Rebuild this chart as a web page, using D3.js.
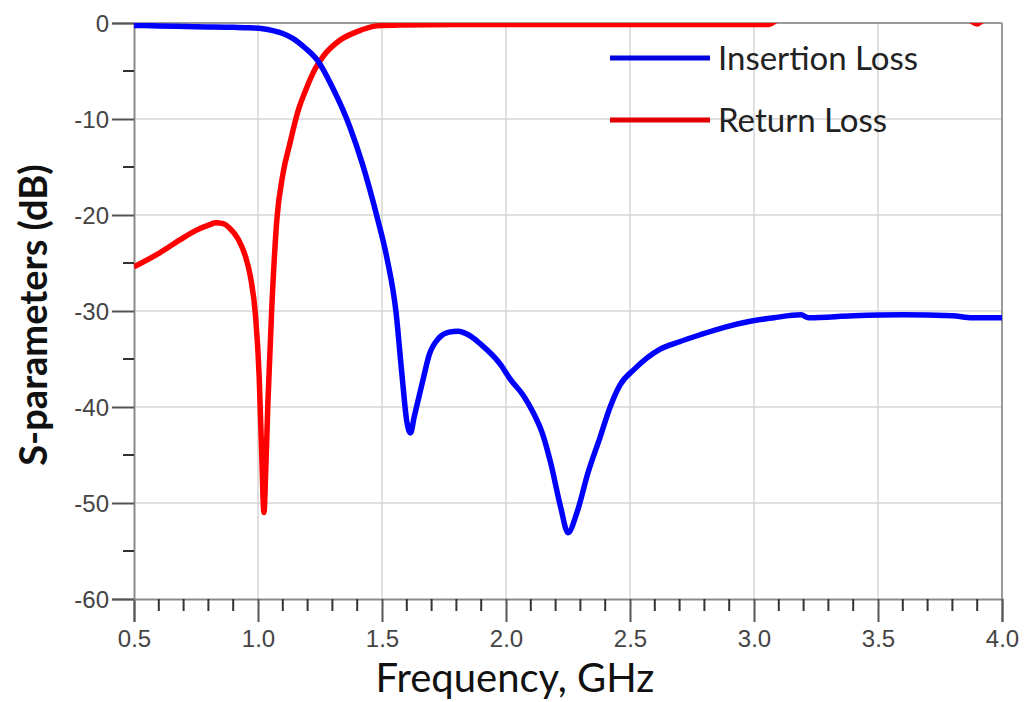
<!DOCTYPE html>
<html>
<head>
<meta charset="utf-8">
<script src="https://cdn.jsdelivr.net/npm/d3@7"></script>
<style>
  body { margin: 0; background: #fff; }
  svg { display: block; }
</style>
</head>
<body>
<div id="chart"></div>
<script>
// Insertion loss (S21)
const ilFreq = [0.5, 0.6, 0.75, 0.9, 0.968, 1.02, 1.06, 1.10, 1.14, 1.19, 1.24, 1.30, 1.37, 1.42, 1.48, 1.52, 1.556, 1.58, 1.60, 1.615, 1.63, 1.665, 1.69, 1.73, 1.77, 1.806, 1.85, 1.90, 1.976, 2.02, 2.07, 2.11, 2.15, 2.18, 2.22, 2.25, 2.286, 2.33, 2.38, 2.42, 2.46, 2.52, 2.62, 2.70, 2.78, 2.88, 2.98, 3.08, 3.19, 3.22, 3.4, 3.6, 3.8, 3.88, 4.0];
const ilDb   = [-0.25, -0.3, -0.4, -0.45, -0.5, -0.6, -0.8, -1.1, -1.6, -2.6, -3.9, -6.7, -10.8, -14.6, -20.2, -24.5, -30.0, -36.5, -41.5, -42.7, -41.0, -37.2, -34.6, -32.8, -32.2, -32.1, -32.5, -33.5, -35.5, -37.2, -38.8, -40.6, -43.0, -45.8, -50.4, -53.1, -51.0, -46.9, -43.1, -40.0, -37.7, -36.0, -34.0, -33.2, -32.5, -31.7, -31.1, -30.7, -30.4, -30.7, -30.5, -30.4, -30.5, -30.7, -30.7];

// Return loss (S11)
const rlFreq = [0.5, 0.6, 0.685, 0.75, 0.806, 0.83, 0.86, 0.887, 0.92, 0.948, 0.97, 0.99, 1.005, 1.015, 1.024, 1.032, 1.04, 1.055, 1.076, 1.10, 1.129, 1.16, 1.197, 1.23, 1.262, 1.33, 1.40, 1.48, 1.57, 1.8, 2.2, 2.6, 3.0, 3.06, 3.1, 3.5, 3.86, 3.9, 3.93, 4.0];
const rlDb   = [-25.4, -24.0, -22.6, -21.6, -21.0, -20.8, -20.9, -21.4, -22.5, -24.2, -26.5, -30.5, -37.0, -45.0, -51.0, -46.0, -39.5, -30.0, -20.5, -15.8, -12.5, -9.3, -6.7, -4.8, -3.5, -1.8, -0.9, -0.3, -0.2, -0.15, -0.15, -0.15, -0.15, -0.15, 0.35, 0.35, 0.35, -0.1, 0.35, 0.35];

const xTicks = [0.5, 1.0, 1.5, 2.0, 2.5, 3.0, 3.5, 4.0];
const yTicks = [0, -10, -20, -30, -40, -50, -60];
const seriesNames = ['Insertion Loss', 'Return Loss'];
const seriesColors = ['#0000ff', '#ff0000'];

const width = 1024, height = 702;
const margin = { left: 134, right: 22, top: 23, bottom: 103 };
const innerW = width - margin.left - margin.right;
const innerH = height - margin.top - margin.bottom;

const svg = d3.select('#chart').append('svg')
  .attr('width', width)
  .attr('height', height);

const x = d3.scaleLinear().domain([0.5, 4.0]).range([0, innerW]);
const y = d3.scaleLinear().domain([-60, 0]).range([innerH, 0]);

const g = svg.append('g')
  .attr('transform', `translate(${margin.left},${margin.top})`);

svg.append('defs').append('clipPath')
  .attr('id', 'plot-clip')
  .append('rect')
  .attr('width', innerW)
  .attr('height', innerH);

// grid
g.append('g')
  .selectAll('line')
  .data(xTicks.slice(1, -1))
  .join('line')
  .attr('x1', d => x(d)).attr('x2', d => x(d))
  .attr('y1', 0).attr('y2', innerH)
  .attr('stroke', '#d6d6d6')
  .attr('stroke-width', 1.5);

g.append('g')
  .selectAll('line')
  .data(yTicks.slice(1, -1))
  .join('line')
  .attr('x1', 0).attr('x2', innerW)
  .attr('y1', d => y(d)).attr('y2', d => y(d))
  .attr('stroke', '#d6d6d6')
  .attr('stroke-width', 1.5);

// minor ticks
const xMinor = d3.range(0.6, 4.0, 0.1).filter(v => Math.abs(v * 2 - Math.round(v * 2)) > 0.01);
const yMinor = [-5, -15, -25, -35, -45, -55];

const hyphen = d => String(d).replace('\u2212', '-');

// x axis
const xAxis = g.append('g')
  .attr('transform', `translate(0,${innerH})`)
  .call(d3.axisBottom(x).tickValues(xTicks).tickFormat(d3.format('.1f')).tickSize(23).tickPadding(8));
xAxis.append('g')
  .selectAll('line')
  .data(xMinor)
  .join('line')
  .attr('x1', d => x(d)).attr('x2', d => x(d))
  .attr('y1', 0).attr('y2', 12)
  .attr('stroke', '#333')
  .attr('stroke-width', 2);

// y axis
const yAxis = g.append('g')
  .call(d3.axisLeft(y).tickValues(yTicks).tickFormat(d => hyphen(d)).tickSize(22).tickPadding(3));
yAxis.append('g')
  .selectAll('line')
  .data(yMinor)
  .join('line')
  .attr('x1', 0).attr('x2', -11)
  .attr('y1', d => y(d)).attr('y2', d => y(d))
  .attr('stroke', '#333')
  .attr('stroke-width', 2);

[xAxis, yAxis].forEach(ax => {
  ax.select('.domain').attr('stroke', '#8a8a8a').attr('stroke-width', 2);
  ax.selectAll('.tick line').attr('stroke', '#555').attr('stroke-width', 2);
  ax.selectAll('.tick text')
    .attr('fill', '#444')
    .attr('font-family', 'Liberation Sans, Arial, sans-serif')
    .attr('font-size', '24px');
});
yAxis.selectAll('.tick text').attr('dy', '0.36em');

// top and right frame
g.append('line')
  .attr('x1', 0).attr('x2', innerW).attr('y1', 0).attr('y2', 0)
  .attr('stroke', '#9a9a9a').attr('stroke-width', 2);
g.append('line')
  .attr('x1', innerW).attr('x2', innerW).attr('y1', 0).attr('y2', innerH)
  .attr('stroke', '#9a9a9a').attr('stroke-width', 2);

// curves
const line = d3.line()
  .x(d => x(d[0]))
  .y(d => y(d[1]))
  .curve(d3.curveMonotoneX);

const plot = g.append('g').attr('clip-path', 'url(#plot-clip)');

plot.append('path')
  .datum(d3.zip(rlFreq, rlDb))
  .attr('fill', 'none')
  .attr('stroke', seriesColors[1])
  .attr('stroke-width', 5.5)
  .attr('stroke-linejoin', 'round')
  .attr('d', line);

plot.append('path')
  .datum(d3.zip(ilFreq, ilDb))
  .attr('fill', 'none')
  .attr('stroke', seriesColors[0])
  .attr('stroke-width', 5.5)
  .attr('stroke-linejoin', 'round')
  .attr('d', line);

// legend
const legend = svg.append('g').attr('transform', 'translate(610,58)');
seriesNames.forEach((name, i) => {
  const row = legend.append('g').attr('transform', `translate(0,${i * 62})`);
  row.append('line')
    .attr('x1', 0).attr('x2', 100)
    .attr('stroke', i === 0 ? '#0000e0' : '#e00000')
    .attr('stroke-width', 5);
  row.append('text')
    .attr('x', 108)
    .attr('y', 0)
    .attr('dy', '0.35em')
    .attr('font-family', 'Lato, Open Sans, sans-serif')
    .attr('font-size', '33px')
    .attr('fill', '#222')
    .text(name);
});

// axis titles
svg.append('text')
  .attr('transform', 'translate(47,315) rotate(-90)')
  .attr('text-anchor', 'middle')
  .attr('font-family', 'Lato, Open Sans, sans-serif')
  .attr('font-weight', 'bold')
  .attr('font-size', '38px')
  .attr('fill', '#111')
  .text('S-parameters (dB)');

svg.append('text')
  .attr('x', 515)
  .attr('y', 692)
  .attr('text-anchor', 'middle')
  .attr('font-family', 'Lato, Open Sans, sans-serif')
  .attr('font-size', '40px')
  .attr('fill', '#111')
  .text('Frequency, GHz');
</script>
</body>
</html>
